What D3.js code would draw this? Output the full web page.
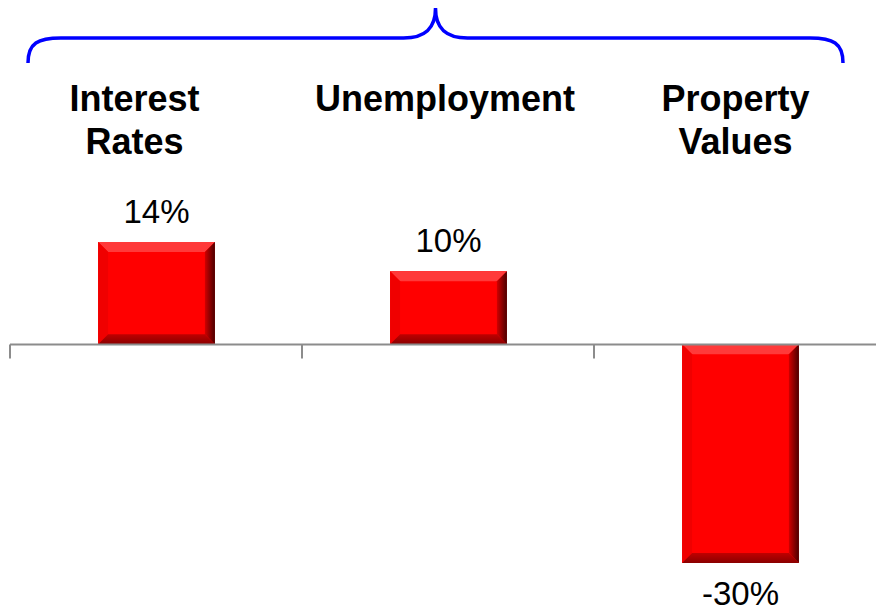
<!DOCTYPE html>
<html><head><meta charset="utf-8">
<script src="https://cdn.jsdelivr.net/npm/d3@7"></script>
<style>body{margin:0;background:#fff}svg{display:block}</style>
</head><body>
<script>
const categories = ["Interest Rates", "Unemployment", "Property Values"];
const categoryLines = [["Interest", "Rates"], ["Unemployment"], ["Property", "Values"]];
const values = [14, 10, -30];
const valueLabels = ["14%", "10%", "-30%"];

const W = 876, H = 614;
const svg = d3.select("body").append("svg").attr("width", W).attr("height", H);
const font = "'Liberation Sans', Arial, sans-serif";

const x = d3.scaleBand().domain(categories).range([10, 886]).paddingInner(0.6).paddingOuter(0.3);
const y = d3.scaleLinear().domain([-30, 14]).range([563, 242]);

// bars with bevel
const bev = 10;
categories.forEach((c, i) => {
  const v = values[i];
  const x0 = x(c) + 0.5, x1 = x(c) + x.bandwidth() + 0.5;
  const y0 = Math.min(y(v), y(0)), y1 = Math.max(y(v), y(0));
  const g = svg.append("g");
  g.append("rect").attr("x", x0).attr("y", y0).attr("width", x1 - x0).attr("height", y1 - y0).attr("fill", "#ff0000");
  g.append("polygon").attr("points", [[x0,y0],[x1,y0],[x1-bev,y0+bev],[x0+bev,y0+bev]].join(" ")).attr("fill", "#ff3a3a");
  g.append("polygon").attr("points", [[x0,y0],[x0+bev,y0+bev],[x0+bev,y1-bev],[x0,y1]].join(" ")).attr("fill", "#f00000");
  const rg = "rg" + i;
  const grad = svg.append("defs").append("linearGradient").attr("id", rg).attr("x1", "0").attr("x2", "1");
  grad.append("stop").attr("offset", "0").attr("stop-color", "#d00000");
  grad.append("stop").attr("offset", "1").attr("stop-color", "#4a0000");
  g.append("polygon").attr("points", [[x1,y0],[x1,y1],[x1-bev,y1-bev],[x1-bev,y0+bev]].join(" ")).attr("fill", `url(#${rg})`);
  const bg = "bg" + i;
  const gradb = svg.append("defs").append("linearGradient").attr("id", bg).attr("x1", "0").attr("x2", "0").attr("y1", "0").attr("y2", "1");
  gradb.append("stop").attr("offset", "0").attr("stop-color", "#c00000");
  gradb.append("stop").attr("offset", "1").attr("stop-color", "#8a0000");
  g.append("polygon").attr("points", [[x0,y1],[x1,y1],[x1-bev,y1-bev],[x0+bev,y1-bev]].join(" ")).attr("fill", `url(#${bg})`);
  const ly = v >= 0 ? y(v) - 19 : y(v) + 42;
  svg.append("text").attr("x", x(c) + x.bandwidth() / 2 + 0.5).attr("y", ly).attr("text-anchor", "middle")
    .attr("font-family", font).attr("font-size", 33).attr("fill", "#000").text(valueLabels[i]);
});

// axis
const axisG = svg.append("g").attr("transform", `translate(0,${Math.round(y(0)) + 0.5})`);
axisG.append("line").attr("x1", 10).attr("x2", W).attr("stroke", "#8c8c8c").attr("stroke-width", 2);
const edges = d3.range(categories.length + 1).map(i => x.range()[0] + i * x.step());
axisG.selectAll(".edge").data(edges).join("line").attr("class", "edge")
  .attr("x1", d => d).attr("x2", d => d).attr("y1", 0).attr("y2", 14)
  .attr("stroke", "#8c8c8c").attr("stroke-width", 2);

// category labels
const labelX = [134.5, 445, 735.5];
categories.forEach((c, i) => {
  categoryLines[i].forEach((t, j) => {
    svg.append("text").attr("x", labelX[i]).attr("y", 111 + j * 43)
      .attr("text-anchor", "middle").attr("font-family", font).attr("font-weight", "bold")
      .attr("font-size", 36).attr("fill", "#000").text(t);
  });
});

// brace
const bx0 = 28, bx1 = 843, bmid = 435.5, byBot = 63, byMid = 38, byTop = 8, r = 28;
const brace = d3.path();
brace.moveTo(bx0, byBot);
brace.bezierCurveTo(bx0, byMid + 5, bx0 + 10, byMid, bx0 + r + 5, byMid);
brace.lineTo(bmid - 32, byMid);
brace.bezierCurveTo(bmid - 10, byMid, bmid, byMid - 10, bmid, byTop);
brace.bezierCurveTo(bmid, byMid - 10, bmid + 10, byMid, bmid + 32, byMid);
brace.lineTo(bx1 - r - 5, byMid);
brace.bezierCurveTo(bx1 - 10, byMid, bx1, byMid + 5, bx1, byBot);
svg.append("path").attr("d", brace.toString()).attr("fill", "none").attr("stroke", "#0000ff").attr("stroke-width", 3.5);
</script>
</body></html>
